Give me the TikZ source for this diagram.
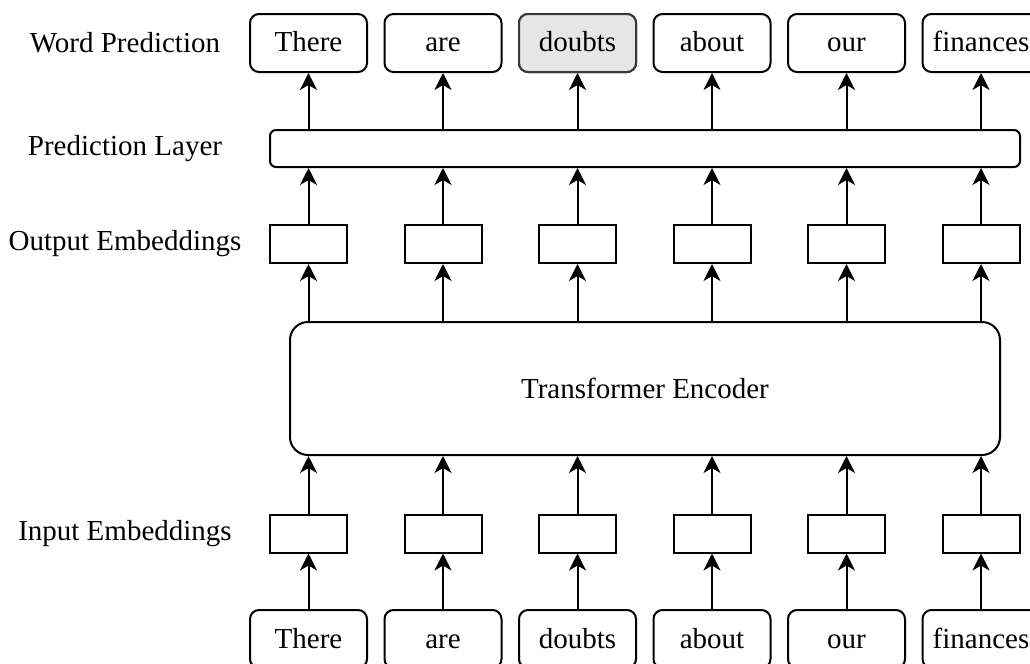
\documentclass[tikz,border=0pt]{standalone}
\usepackage{fontspec}
\setmainfont{Liberation Serif}
\usetikzlibrary{arrows.meta}
\definecolor{hlfill}{HTML}{E6E6E6}
\definecolor{hldraw}{HTML}{36393D}

\begin{document}
\begin{tikzpicture}[x=0.5pt,y=-0.5pt,font=\fontsize{14.5}{17}\selectfont,
    word/.style={draw,line width=1pt,rounded corners=4.5pt,minimum width=58.5pt,minimum height=29pt,inner sep=0pt,text height=10.5pt,text depth=1.5pt},
    emb/.style={draw,line width=1pt,minimum width=38.5pt,minimum height=19pt,inner sep=0pt},
    arr/.style={line width=1pt,-{Stealth[length=8.5pt,width=8.5pt,inset=2.5pt]}}]

      \useasboundingbox (0,0) rectangle (1030,664);
      \clip (0,0) rectangle (1030,664);

      % row labels
      \node (lword) at (125,43) {Word Prediction};
      \node (lpred) at (125,148.5) {Prediction Layer};
      \node (lout) at (125,244) {Output Embeddings};
      \node (lin) at (125,533.5) {Input Embeddings};

      % big boxes
      \node[draw,line width=1pt,rounded corners=3pt,minimum width=375pt,minimum height=18.5pt,inner sep=0pt] (pred) at (645,148.5) {};
      \node[draw,line width=1pt,rounded corners=9pt,minimum width=355pt,minimum height=66.5pt,inner sep=0pt] (enc) at (645,388.5) {Transformer Encoder};

      \foreach \w [count=\i from 0] in {There,are,doubts,about,our,finances} {
        \pgfmathsetmacro{\cx}{308.5+134.5*\i}
        \node[word] (in\i) at (\cx,639) {\w};
        \node[emb] (ie\i) at (\cx,533.5) {};
        \node[emb] (oe\i) at (\cx,244) {};
        \node[word] (out\i) at (\cx,43) {\w};

        \draw[arr] (in\i) -- (ie\i);
        \draw[arr] (ie\i) -- (ie\i |- enc.south);
        \draw[arr] (oe\i |- enc.north) -- (oe\i);
        \draw[arr] (oe\i) -- (oe\i |- pred.south);
        \draw[arr] (out\i |- pred.north) -- (out\i);
      }

      % masked word
      \node[word,fill=hlfill,draw=hldraw] at (out2) {doubts};

    \end{tikzpicture}
\end{document}
